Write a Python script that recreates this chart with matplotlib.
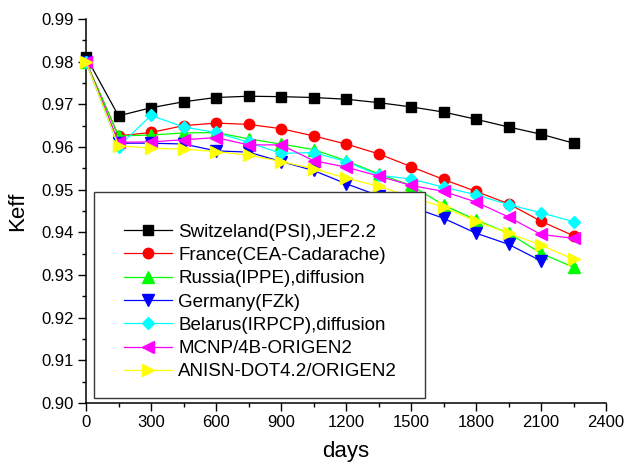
import matplotlib
matplotlib.use("Agg")
import matplotlib.pyplot as plt
from matplotlib.patches import Rectangle
from matplotlib.ticker import MultipleLocator

plt.rcParams['font.family'] = ['Liberation Sans', 'DejaVu Sans']

days = [0, 150, 300, 450, 600, 750, 900, 1050, 1200, 1350, 1500, 1650, 1800, 1950, 2100, 2250]

switzerland = [0.9812, 0.9673, 0.9692, 0.9706, 0.9716, 0.9719, 0.9718, 0.9716, 0.9712, 0.9704,
               0.9694, 0.9682, 0.9665, 0.9647, 0.9630, 0.9609]
france = [0.9800, 0.9626, 0.9634, 0.9650, 0.9656, 0.9653, 0.9643, 0.9626, 0.9607, 0.9584,
          0.9554, 0.9524, 0.9496, 0.9467, 0.9426, 0.9392]
russia = [0.9800, 0.9626, 0.9628, 0.9633, 0.9634, 0.9619, 0.9607, 0.9594, 0.9568, 0.9537,
          0.9510, 0.9464, 0.9429, 0.9398, 0.9351, 0.9318]
germany = [0.9800, 0.9609, 0.9609, 0.9607, 0.9591, 0.9588, 0.9566, 0.9545, 0.9514, 0.9486,
           0.9460, 0.9433, 0.9398, 0.9372, 0.9333]
belarus = [0.9800, 0.9601, 0.9674, 0.9647, 0.9634, 0.9611, 0.9585, 0.9587, 0.9566, 0.9534,
           0.9525, 0.9506, 0.9488, 0.9465, 0.9446, 0.9425]
mcnp = [0.9800, 0.9611, 0.9612, 0.9617, 0.9622, 0.9605, 0.9605, 0.9568, 0.9553, 0.9532,
        0.9510, 0.9496, 0.9471, 0.9436, 0.9395, 0.9386]
anisn = [0.9800, 0.9603, 0.9597, 0.9595, 0.9589, 0.9581, 0.9566, 0.9549, 0.9527, 0.9508,
         0.9483, 0.9459, 0.9426, 0.9398, 0.9370, 0.9337]

labels = ["Switzeland(PSI),JEF2.2", "France(CEA-Cadarache)", "Russia(IPPE),diffusion",
          "Germany(FZk)", "Belarus(IRPCP),diffusion", "MCNP/4B-ORIGEN2", "ANISN-DOT4.2/ORIGEN2"]
x_ticks = [0, 300, 600, 900, 1200, 1500, 1800, 2100, 2400]
y_ticks = [0.90, 0.91, 0.92, 0.93, 0.94, 0.95, 0.96, 0.97, 0.98, 0.99]

series = [switzerland, france, russia, germany, belarus, mcnp, anisn]
colors = ['#000000', '#FF0000', '#00FF00', '#0000FF', '#00FFFF', '#FF00FF', '#FFFF00']
markers = ['s', 'o', '^', 'v', 'D', '<', '>']
msizes = [6.5, 7.5, 8.5, 8.5, 6.5, 8.5, 8.5]

W, H = 635, 466
fig = plt.figure(figsize=(W / 100, H / 100), dpi=100)
ax = fig.add_axes([86 / W, 1 - 403 / H, (606 - 86) / W, (403 - 19) / H])

handles = []
for vals, c, m, ms, lab in zip(series, colors, markers, msizes, labels):
    h, = ax.plot(days[:len(vals)], vals, color=c, marker=m, markersize=ms, lw=0.9,
                 markeredgecolor=c, label=lab, clip_on=False, zorder=3)
    handles.append(h)

ax.set_xlim(0, 2400)
ax.set_ylim(0.90, 0.99)
ax.set_xticks(x_ticks)
ax.set_yticks(y_ticks)
ax.set_xticklabels([str(t) for t in x_ticks])
ax.set_yticklabels([f"{t:.2f}" for t in y_ticks])
ax.xaxis.set_minor_locator(MultipleLocator(150))
ax.yaxis.set_minor_locator(MultipleLocator(0.005))
ax.tick_params(which='major', direction='out', length=5.5, width=1, labelsize=12, pad=3)
ax.tick_params(which='minor', direction='out', length=3, width=1)
for s in ['top', 'right']:
    ax.spines[s].set_visible(False)
for s in ['left', 'bottom']:
    ax.spines[s].set_linewidth(1.1)

ax.set_xlabel("days", fontsize=16, labelpad=8)
ax.set_ylabel("Keff", fontsize=16, labelpad=10)

# legend box (opaque)
box = Rectangle((94 / W, 1 - 398 / H), (425 - 94) / W, (398 - 192) / H,
                transform=fig.transFigure, facecolor='white', edgecolor='#3a3a3a',
                lw=1.0, zorder=5)
fig.patches.append(box)

leg = fig.legend(handles=handles, labels=labels, loc='upper left',
                 bbox_to_anchor=(124 / W, 1 - 223.5 / H), frameon=False,
                 fontsize=13.5, borderpad=0, borderaxespad=0, handlelength=2.55,
                 handletextpad=0.33, labelspacing=0.33)
leg.set_zorder(6)

fig.savefig("out.png", dpi=100)
